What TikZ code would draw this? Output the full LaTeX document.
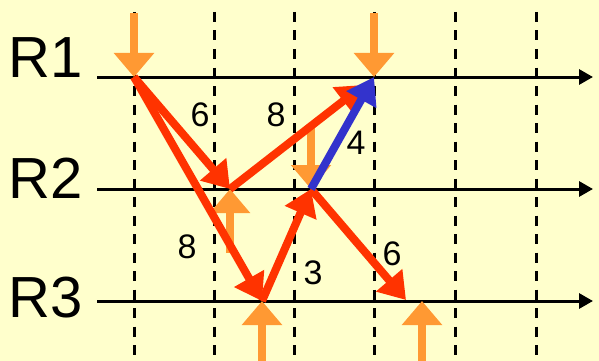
\documentclass[tikz,border=0pt]{standalone}
\usepackage{fontspec}
\setmainfont{Liberation Sans}
\usetikzlibrary{arrows.meta}
\definecolor{bg}{HTML}{FFFFCC}
\definecolor{ora}{HTML}{FF9933}
\definecolor{redm}{HTML}{FF3300}
\definecolor{blum}{HTML}{3333CC}
\begin{document}
\begin{tikzpicture}[x=1pt,y=-1pt,
  timeline/.style={line width=3pt,-{Triangle[length=14pt,width=15pt]}},
  gridline/.style={line width=3pt,dash pattern=on 10pt off 8.5pt},
  eventarrow/.style={ora,line width=7.5pt,-{Triangle[length=24pt,width=39pt]}},
  msg/.style={redm,line width=8pt,-{Triangle[length=26pt,width=33pt]}},
  bluemsg/.style={blum,line width=8pt,-{Triangle[length=26pt,width=33pt]}},
  proc/.style={font=\fontsize{58}{58}\selectfont,inner sep=0pt},
  num/.style={font=\fontsize{34}{34}\selectfont,inner sep=0pt}
]
\fill[bg] (0,0) rectangle (599,361);
\useasboundingbox (0,0) rectangle (599,361);

% dashed verticals
\foreach \x/\n in {134/a,214/b,294/c,374/d,455/e,536/f}{
  \coordinate (t\n) at (\x,12);
  \coordinate (b\n) at (\x,361);
  \draw[gridline] (t\n) -- (b\n);
}

% time lines
\coordinate (s1) at (97,77);  \coordinate (e1) at (593,77);
\coordinate (s2) at (97,189); \coordinate (e2) at (593,189);
\coordinate (s3) at (97,301); \coordinate (e3) at (593,301);
\draw[timeline] (s1) -- (e1);
\draw[timeline] (s2) -- (e2);
\draw[timeline] (s3) -- (e3);

\node[proc] (R1) at (46,58) {R1};
\node[proc] (R2) at (46,178) {R2};
\node[proc] (R3) at (46,298) {R3};

% event points
\coordinate (p1a) at (134,77);
\coordinate (p1b) at (374,77);
\coordinate (p2a) at (230,189);
\coordinate (p2b) at (311,189);
\coordinate (p3a) at (262,301);
\coordinate (p3b) at (422,301);
\coordinate (q3b) at (406,300);

% orange event arrows
\coordinate (o1a) at (134,13);
\coordinate (o1b) at (374,13);
\coordinate (o2a) at (230,253);
\coordinate (o2b) at (311,125);
\coordinate (o3a) at (262,361);
\coordinate (o3b) at (422,361);
\draw[eventarrow] (o1a) -- (p1a);
\draw[eventarrow] (o1b) -- (p1b);
\draw[eventarrow] (o2a) -- (p2a);
\draw[eventarrow] (o2b) -- (p2b);
\draw[eventarrow] (o3a) -- (p3a);
\draw[eventarrow] (o3b) -- (p3b);

% messages
\draw[msg] (p1a) -- (p2a);
\draw[msg] (p1a) -- (p3a);
\draw[msg,shorten >=13pt] (p2a) -- (p1b);
\draw[msg] (p3a) -- (p2b);
\draw[msg] (p2b) -- (q3b);
\draw[bluemsg] (p2b) -- (p1b);

% labels
\node[num] (l1) at (200,115) {6};
\node[num] (l2) at (276,115) {8};
\node[num] (l3) at (356,143) {4};
\node[num] (l4) at (187,247) {8};
\node[num] (l5) at (313,273) {3};
\node[num] (l6) at (392,254) {6};
\end{tikzpicture}
\end{document}
